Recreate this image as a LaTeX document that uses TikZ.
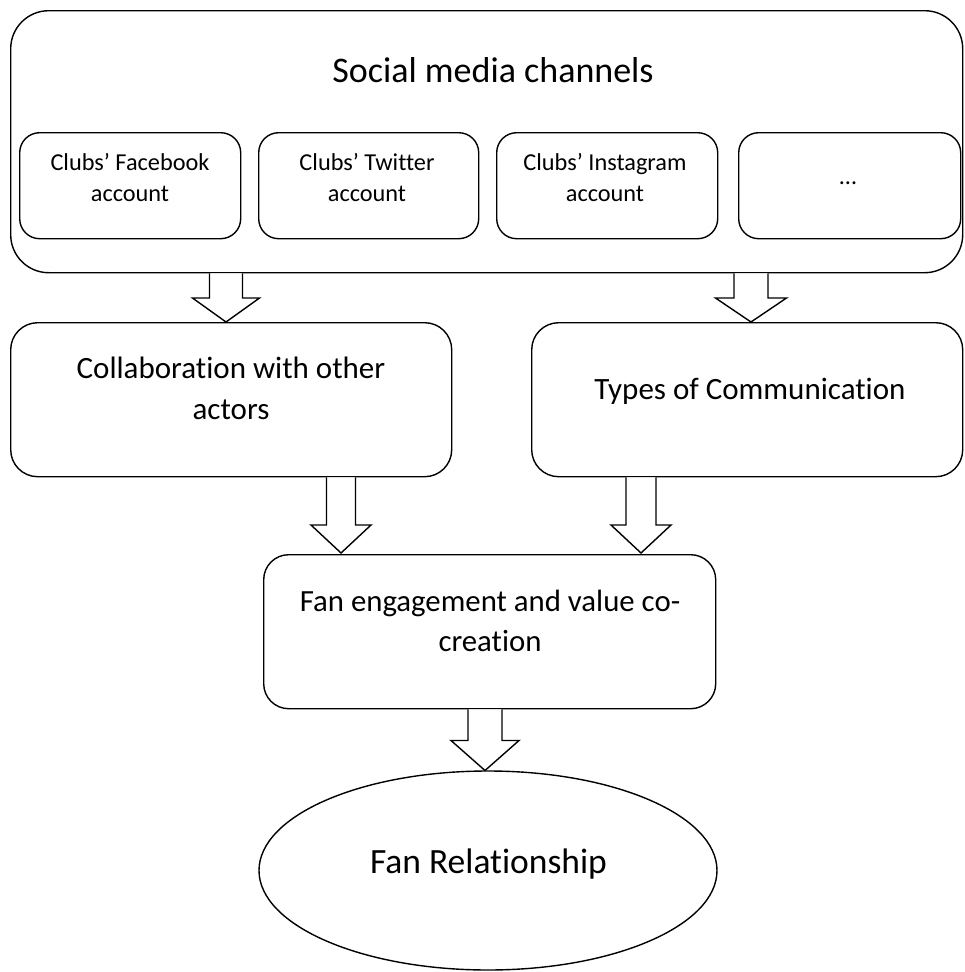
\documentclass[tikz,border=0pt]{standalone}
\usepackage{fontspec}
\setmainfont{Carlito}[Ligatures={NoCommon},RawFeature={-liga;-clig;-dlig}]
\usetikzlibrary{shapes.geometric,calc}
\newcommand\fatarrow[5]{%
  \draw[arr] ($(#1.south -| #2)+(-#3,0)$) -- ($(#2)+(-#3,-#5)$) -- ($(#2)+(-#4,-#5)$) -- (#2)
    -- ($(#2)+(#4,-#5)$) -- ($(#2)+(#3,-#5)$) -- ($(#1.south -| #2)+(#3,0)$);}
\begin{document}
\begin{tikzpicture}[x=1pt,y=-1pt,
  box/.style={draw,line width=1.4pt,rounded corners=#1,inner sep=0pt,anchor=north west},
  arr/.style={draw,fill=white,line width=1.4pt,line join=miter},
  ln/.style={anchor=base,inner sep=0pt},
  fsub/.style={font=\fontsize{24.3}{29}\selectfont},
  fmid/.style={font=\fontsize{31}{37}\selectfont},
  fbot/.style={font=\fontsize{30.8}{37}\selectfont}]
\useasboundingbox (0,0) rectangle (964,972);
% outer container
\node[box=38pt,minimum width=952pt,minimum height=262pt] (outer) at (10,10) {};
\node[ln,font=\fontsize{36}{43}\selectfont] (title) at (493,82) {Social media channels};
% channel boxes
\node[box=20pt,minimum width=221pt,minimum height=106pt] (fb) at (19,132) {};
\node[box=20pt,minimum width=220pt,minimum height=106pt] (tw) at (258,132) {};
\node[box=20pt,minimum width=221pt,minimum height=106pt] (ig) at (496,132) {};
\node[box=20pt,minimum width=222pt,minimum height=106pt] (more) at (738,132) {};
\node[ln,fsub] (fb1) at (130,170) {Clubs’ Facebook};
\node[ln,fsub] (fb2) at (130,201) {account};
\node[ln,fsub] (tw1) at (367,170) {Clubs’ Twitter};
\node[ln,fsub] (tw2) at (367,201) {account};
\node[ln,fsub] (ig1) at (605,170) {Clubs’ Instagram};
\node[ln,fsub] (ig2) at (605,201) {account};
\node[ln,fsub] (more1) at (848,184) {…};
% middle boxes
\node[box=27pt,minimum width=441pt,minimum height=154pt] (collab) at (10,322) {};
\node[box=27pt,minimum width=431pt,minimum height=154pt] (types) at (531,322) {};
\node[ln,fmid] (collab1) at (231,378) {Collaboration with other};
\node[ln,fmid] (collab2) at (231,419) {actors};
\node[ln,fmid] (types1) at (750,399) {Types of Communication};
% engagement box
\node[box=25pt,minimum width=452pt,minimum height=154pt] (eng) at (263,554) {};
\node[ln,fbot] (eng1) at (490,611) {Fan engagement and value co-};
\node[ln,fbot] (eng2) at (490,651) {creation};
% relationship ellipse
\node[draw,ellipse,line width=1.4pt,minimum width=458pt,minimum height=199pt,inner sep=0pt] (rel) at (488,870.5) {};
\node[ln,font=\fontsize{35.5}{42}\selectfont] (rel1) at (488.5,873) {Fan Relationship};
% arrow tips
\coordinate (t1) at (226,322);
\coordinate (t2) at (751,322);
\coordinate (t3) at (341,553);
\coordinate (t4) at (641,553);
\coordinate (t5) at (485,770.5);
\fatarrow{outer}{t1}{16.5}{33.5}{24}
\fatarrow{outer}{t2}{17}{35.5}{24}
\fatarrow{collab}{t3}{14.5}{30}{28}
\fatarrow{types}{t4}{15}{30}{28}
\fatarrow{eng}{t5}{17}{34}{30}
\end{tikzpicture}
\end{document}
